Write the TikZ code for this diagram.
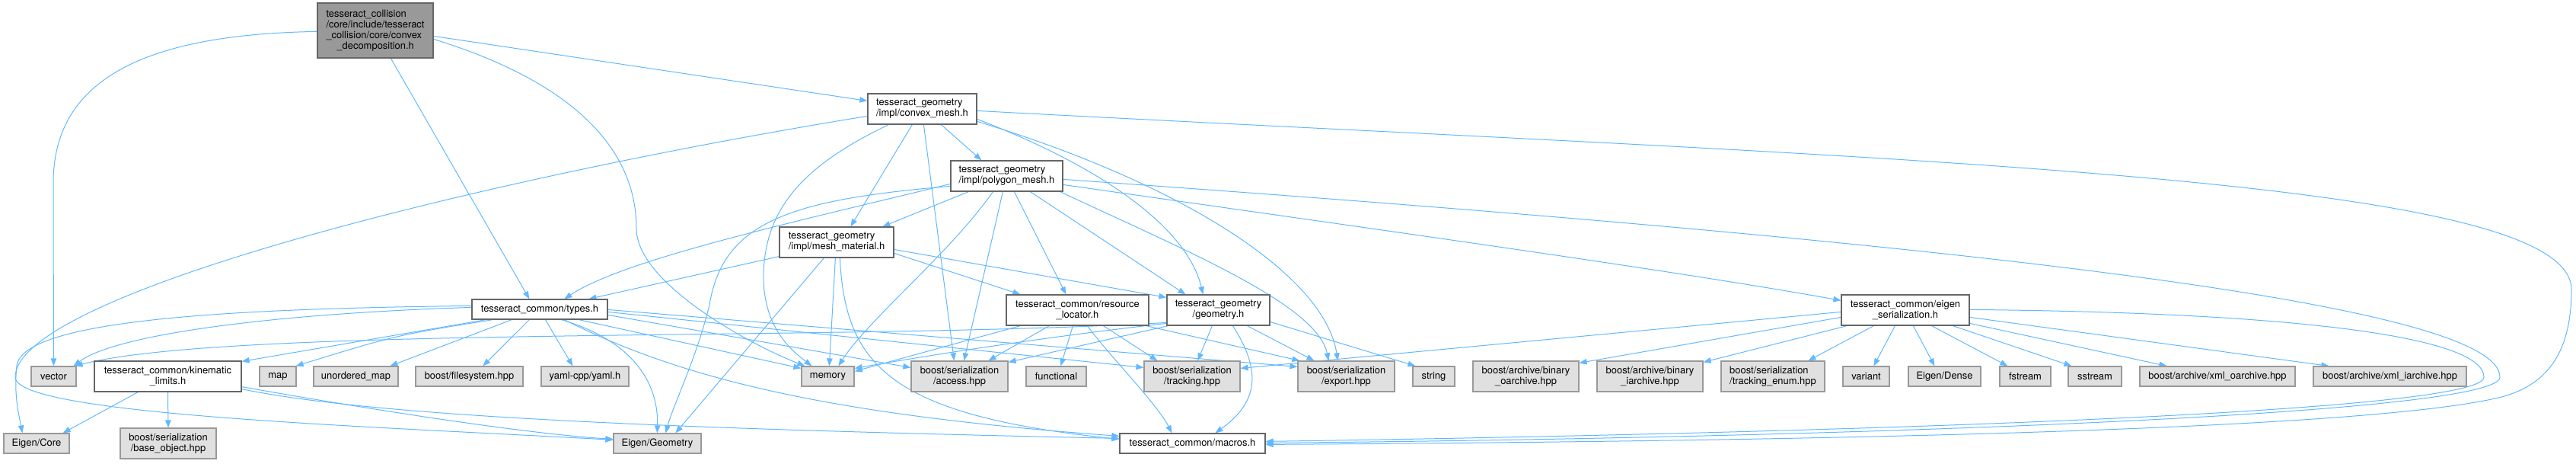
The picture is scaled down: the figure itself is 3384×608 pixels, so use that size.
\documentclass[tikz,border=0pt]{standalone}
\usepackage{fontspec}
\setmainfont{TeX Gyre Heros}
\usetikzlibrary{arrows.meta,calc}
\pgfdeclarelayer{bg}
\pgfsetlayers{bg,main}
\definecolor{edgec}{HTML}{63B8FF}
\definecolor{mainfill}{HTML}{999999}
\definecolor{mainline}{HTML}{666666}
\definecolor{extfill}{HTML}{E0E0E0}
\definecolor{extline}{HTML}{999999}
\tikzset{
  box/.style={rectangle, inner sep=0pt, line width=0.9pt, text=black, align=center},
  mainbox/.style={box, fill=mainfill, draw=mainline},
  filebox/.style={box, fill=white, draw=mainline},
  extbox/.style={box, fill=extfill, draw=extline},
  one/.style={minimum height=19.5pt},
  two/.style={minimum height=30pt},
  dep/.style={draw=edgec, line width=0.75pt, -{Triangle[length=7.5pt,width=5.6pt]}}
}
\begin{document}
\begin{tikzpicture}[x=0.75pt, y=-0.75pt, font=\fontsize{9.7}{10.5}\selectfont]
\useasboundingbox (0,0) rectangle (3384,608);
% ---------- nodes ----------
\node[mainbox, minimum width=114pt, minimum height=54pt, align=left] (m) at (493,40)
  {tesseract\_collision\\/core/include/tesseract\\\_collision/core/convex\\\hspace*{10.5pt}\_decomposition.h};
\node[filebox, two, minimum width=107.25pt, align=left] (cm) at (1211.5,143) {tesseract\_geometry\\/impl/convex\_mesh.h};
\node[filebox, two, minimum width=110.25pt, align=left] (pm) at (1322.5,231) {tesseract\_geometry\\/impl/polygon\_mesh.h};
\node[filebox, two, minimum width=112.5pt, align=left] (mm) at (1099,318) {tesseract\_geometry\\/impl/mesh\_material.h};
\node[filebox, one, minimum width=133.5pt] (ty) at (709,406) {tesseract\_common/types.h};
\node[filebox, two, minimum width=140.25pt] (rl) at (1415.5,407) {tesseract\_common/resource\\\_locator.h};
\node[filebox, two, minimum width=101.25pt] (ge) at (1600.5,407) {tesseract\_geometry\\/geometry.h};
\node[filebox, two, minimum width=126pt] (es) at (2503,407) {tesseract\_common/eigen\\\_serialization.h};
\node[filebox, two, minimum width=144.75pt] (kl) at (220.5,494) {tesseract\_common/kinematic\\\_limits.h};
\node[extbox, one, minimum width=44.25pt] (vec) at (70.5,494) {vector};
\node[extbox, one, minimum width=36pt] (map) at (365,494) {map};
\node[extbox, one, minimum width=83.25pt] (umap) at (467.5,494) {unordered\_map};
\node[extbox, one, minimum width=105.75pt] (fs) at (616.5,494) {boost/filesystem.hpp};
\node[extbox, one, minimum width=86.25pt] (yaml) at (768.5,494) {yaml-cpp/yaml.h};
\node[extbox, one, minimum width=51.75pt] (mem) at (1087.5,494) {memory};
\node[extbox, two, minimum width=95.25pt] (acc) at (1260.5,494) {boost/serialization\\/access.hpp};
\node[extbox, one, minimum width=59.25pt] (fun) at (1387.5,494) {functional};
\node[extbox, two, minimum width=94.5pt] (trk) at (1566,494) {boost/serialization\\/tracking.hpp};
\node[extbox, two, minimum width=95.25pt] (exp) at (1768.5,494) {boost/serialization\\/export.hpp};
\node[extbox, one, minimum width=41.25pt] (str) at (1883.5,494) {string};
\node[extbox, two, minimum width=104.25pt] (boa) at (2004.5,494) {boost/archive/binary\\\_oarchive.hpp};
\node[extbox, two, minimum width=104.25pt] (bia) at (2167.5,494) {boost/archive/binary\\\_iarchive.hpp};
\node[extbox, two, minimum width=102pt, align=left] (trke) at (2329,494) {boost/serialization\\/tracking\_enum.hpp};
\node[extbox, one, minimum width=45.75pt] (var) at (2451.5,494) {variant};
\node[extbox, one, minimum width=71.25pt] (eden) at (2554.5,494) {Eigen/Dense};
\node[extbox, one, minimum width=50.25pt] (fst) at (2660.5,494) {fstream};
\node[extbox, one, minimum width=52.5pt] (sst) at (2752,494) {sstream};
\node[extbox, one, minimum width=153pt] (xo) at (2913,494) {boost/archive/xml\_oarchive.hpp};
\node[extbox, one, minimum width=150.75pt] (xi) at (3139.5,494) {boost/archive/xml\_iarchive.hpp};
\node[extbox, one, minimum width=64.5pt] (ecore) at (48,582) {Eigen/Core};
\node[extbox, two, minimum width=94.5pt] (bo) at (221,582) {boost/serialization\\/base\_object.hpp};
\node[extbox, one, minimum width=86.25pt] (egeo) at (863.5,582) {Eigen/Geometry};
\node[filebox, one, minimum width=143.25pt] (mac) at (1566.5,582) {tesseract\_common/macros.h};
% ---------- edges ----------
\begin{pgfonlayer}{bg}
% main
\draw[dep] ($(m.north west)+(0,38)$) .. controls (180,45) and (70,110) .. (70,240) -- (vec.north);
\draw[dep] ($(m.south west)+(97,0)$) -- ($(ty.north west)+(76,0)$);
\draw[dep] ($(m.north east)+(0,48)$) .. controls (760,110) and (836,200) .. (836,300) .. controls (836,370) and (980,450) .. ($(mem.north west)+(5,0)$);
\draw[dep] ($(m.north east)+(0,44)$) -- ($(cm.north west)+(0,10)$);
% convex_mesh
\draw[dep] ($(cm.north west)+(0,30)$) .. controls (600,240) and (20,390) .. (20,495) .. controls (20,545) and (500,560) .. ($(egeo.north west)+(0,9)$);
\draw[dep] ($(cm.north east)+(0,23)$) .. controls (2500,210) and (3378,230) .. (3378,380) .. controls (3378,470) and (3340,505) .. (3290,520) .. controls (3100,570) and (2200,580) .. ($(mac.north east)+(0,15)$);
\draw[dep] ($(cm.south west)+(97,0)$) -- ($(pm.north west)+(41,0)$);
\draw[dep] ($(cm.south west)+(59,0)$) -- ($(mm.north west)+(94,0)$);
\draw[dep] ($(cm.south west)+(28,0)$) .. controls (1060,215) and (1005,270) .. (1003,360) .. controls (1002,430) and (1040,460) .. ($(mem.north west)+(14,0)$);
\draw[dep] ($(cm.south west)+(74,0)$) -- ($(acc.north west)+(57,0)$);
\draw[dep] ($(cm.north east)+(0,34)$) .. controls (1450,220) and (1560,300) .. ($(ge.north west)+(48,0)$);
\draw[dep] ($(cm.north east)+(0,37)$) .. controls (1550,240) and (1740,360) .. ($(exp.north west)+(53,0)$);
% polygon_mesh
\draw[dep] ($(pm.north west)+(0,31)$) .. controls (1050,290) and (820,340) .. ($(ty.north west)+(122,0)$);
\draw[dep] ($(pm.north west)+(0,34)$) .. controls (1040,262) and (950,290) .. (932,400) .. controls (915,470) and (885,530) .. ($(egeo.north west)+(69,0)$);
\draw[dep] ($(pm.south west)+(24,0)$) -- ($(mm.north west)+(136,0)$);
\draw[dep] ($(pm.south west)+(56,0)$) .. controls (1250,330) and (1140,420) .. ($(mem.north west)+(49,0)$);
\draw[dep] ($(pm.south west)+(69,0)$) -- ($(acc.north west)+(70,0)$);
\draw[dep] ($(pm.south west)+(84,0)$) -- ($(rl.north west)+(79,0)$);
\draw[dep] ($(pm.south west)+(105,0)$) -- ($(ge.north west)+(25,0)$);
\draw[dep] ($(pm.south east)+(-4,0)$) .. controls (1560,330) and (1730,400) .. ($(exp.north west)+(41,0)$);
\draw[dep] ($(pm.north east)+(0,32)$) .. controls (1800,300) and (2200,355) .. ($(es.north west)+(0,8)$);
\draw[dep] ($(pm.north east)+(0,25)$) .. controls (2600,320) and (3284,400) .. (3284,495) .. controls (3284,545) and (2400,575) .. ($(mac.north east)+(0,13)$);
% mesh_material
\draw[dep] ($(mm.south west)+(0,-2)$) -- ($(ty.north west)+(154,0)$);
\draw[dep] ($(mm.south west)+(59,0)$) -- ($(egeo.north west)+(82,0)$);
\draw[dep] ($(mm.south west)+(74,0)$) -- ($(mem.north west)+(37,0)$);
\draw[dep] ($(mm.south west)+(80,0)$) .. controls (1110,480) and (1170,545) .. ($(mac.north west)+(0,8)$);
\draw[dep] ($(mm.north east)+(0,35)$) -- ($(rl.north west)+(19,0)$);
\draw[dep] ($(mm.north east)+(0,30)$) -- ($(ge.north west)+(0,4)$);
% types
\draw[dep] ($(ty.north west)+(0,11)$) .. controls (350,412) and (150,440) .. ($(vec.north east)+(-4,0)$);
\draw[dep] ($(ty.north west)+(0,9)$) .. controls (300,405) and (30,420) .. (22,480) .. controls (18,520) and (25,545) .. ($(ecore.north west)+(25,0)$);
\draw[dep] ($(ty.south west)+(19,0)$) -- ($(kl.north east)+(0,1)$);
\draw[dep] ($(ty.south west)+(28,0)$) .. controls (520,440) .. ($(map.north east)+(-1,0)$);
\draw[dep] ($(ty.south west)+(53,0)$) -- ($(umap.north west)+(101,0)$);
\draw[dep] ($(ty.south west)+(76,0)$) -- ($(fs.north west)+(89,0)$);
\draw[dep] ($(ty.south west)+(97,0)$) -- ($(yaml.north west)+(42,0)$);
\draw[dep] ($(ty.south west)+(118,0)$) .. controls (840,450) and (865,510) .. ($(egeo.north west)+(58,0)$);
\draw[dep] ($(ty.south west)+(141,0)$) -- ($(mem.north west)+(0,3)$);
\draw[dep] ($(ty.south west)+(122,0)$) .. controls (900,500) and (1100,545) .. ($(mac.north west)+(0,4)$);
\draw[dep] ($(ty.north east)+(0,21)$) -- ($(acc.north west)+(0,9)$);
\draw[dep] ($(ty.north east)+(0,17)$) -- ($(trk.north west)+(0,9)$);
\draw[dep] ($(ty.north east)+(0,14)$) -- ($(exp.north west)+(0,8)$);
% kinematic limits
\draw[dep] ($(kl.south west)+(58,0)$) -- ($(ecore.north east)+(-9,0)$);
\draw[dep] (kl.south) -- (bo.north);
\draw[dep] ($(kl.south east)+(0,-7)$) .. controls (500,540) and (700,570) .. ($(egeo.north west)+(0,8)$);
\draw[dep] ($(kl.south east)+(0,-4)$) .. controls (500,548) and (900,563) .. ($(mac.north west)+(0,7)$);
% resource locator
\draw[dep] ($(rl.south west)+(19,0)$) -- ($(mem.north east)+(0,7)$);
\draw[dep] ($(rl.south west)+(57,0)$) -- ($(acc.north west)+(102,0)$);
\draw[dep] ($(rl.south west)+(88,0)$) -- ($(fun.north west)+(46,0)$);
\draw[dep] ($(rl.south west)+(107,0)$) .. controls (1460,470) and (1520,530) .. ($(mac.north west)+(69,0)$);
\draw[dep] ($(rl.south west)+(128,0)$) -- ($(trk.north west)+(18,0)$);
\draw[dep] ($(rl.south east)+(-4,0)$) -- ($(exp.north west)+(3,0)$);
% geometry
\draw[dep] ($(ge.north west)+(0,37)$) .. controls (1100,448) and (300,428) .. ($(vec.north east)+(-2,0)$);
\draw[dep] ($(ge.north west)+(0,38)$) .. controls (1350,445) and (1200,470) .. ($(mem.north east)+(0,3)$);
\draw[dep] ($(ge.south west)+(2,0)$) -- ($(acc.north east)+(0,2)$);
\draw[dep] ($(ge.south west)+(60,0)$) -- ($(trk.north west)+(71,0)$);
\draw[dep] ($(ge.south west)+(87,0)$) .. controls (1660,490) and (1650,530) .. ($(mac.north west)+(126,0)$);
\draw[dep] ($(ge.south west)+(106,0)$) -- ($(exp.north west)+(22,0)$);
\draw[dep] ($(ge.north east)+(0,36)$) -- ($(str.north west)+(4,0)$);
% eigen serialization
\draw[dep] ($(es.north west)+(0,23)$) -- ($(trk.north east)+(0,10)$);
\draw[dep] ($(es.north west)+(0,30)$) -- ($(boa.north east)+(0,3)$);
\draw[dep] ($(es.south west)+(8,0)$) -- ($(bia.north east)+(0,2)$);
\draw[dep] ($(es.south west)+(43,0)$) -- ($(trke.north west)+(115,0)$);
\draw[dep] ($(es.south west)+(71,0)$) -- ($(var.north west)+(41,0)$);
\draw[dep] ($(es.south west)+(95,0)$) -- ($(eden.north west)+(35,0)$);
\draw[dep] ($(es.south west)+(119,0)$) -- ($(fst.north west)+(11,0)$);
\draw[dep] ($(es.south west)+(147,0)$) -- ($(sst.north west)+(5,0)$);
\draw[dep] ($(es.north east)+(0,38)$) -- ($(xo.north west)+(36,0)$);
\draw[dep] ($(es.north east)+(0,30)$) -- ($(xi.north west)+(21,0)$);
\draw[dep] ($(es.north east)+(0,20)$) .. controls (3000,410) and (3263,440) .. (3263,495) .. controls (3263,545) and (2300,570) .. ($(mac.north east)+(0,11)$);
\end{pgfonlayer}
\end{tikzpicture}
\end{document}
